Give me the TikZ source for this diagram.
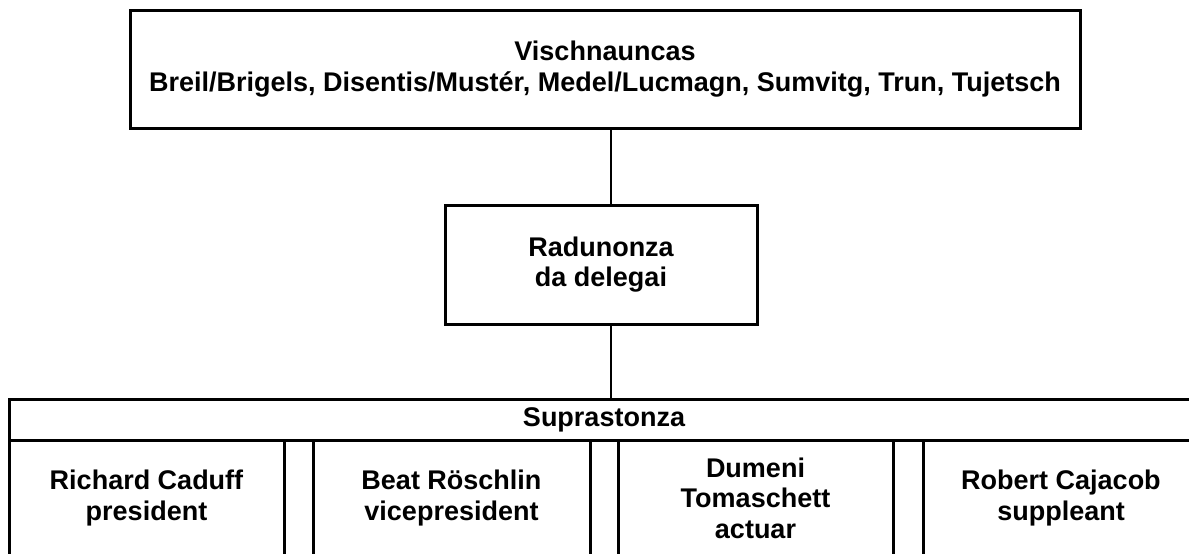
\documentclass[tikz,border=0pt]{standalone}
\usepackage{fontspec}
\setmainfont{Liberation Sans}
\begin{document}
\begin{tikzpicture}[x=1pt,y=-1pt,
  box/.style={draw=black, line width=3pt, fill=white, align=center, inner sep=0pt,
    font=\fontsize{27}{30.5}\selectfont\bfseries},
  conn/.style={draw=black, line width=2.8pt}]
\useasboundingbox (0,0) rectangle (1189,554);
\begin{scope}
\clip (0,0) rectangle (1189,554);
\coordinate (spine) at (611,0);
\node[box, minimum width=950pt, minimum height=118pt] (top) at (605,69)
  {Vischnauncas\\Breil/Brigels, Disentis/Mustér, Medel/Lucmagn, Sumvitg, Trun, Tujetsch};
\node[box, minimum width=312pt, minimum height=119pt] (mid) at (601,264.5)
  {Radunonza\\da delegai};
\node[box, minimum width=1190pt, minimum height=41pt] (sup) at (604,419.5) {Suprastonza};
\node[box, minimum width=275pt, minimum height=116pt] (c1) at (146.5,498) {Richard Caduff\\president};
\node[box, minimum width=277pt, minimum height=116pt] (c2) at (451.5,498) {Beat Röschlin\\vicepresident};
\node[box, minimum width=275pt, minimum height=116pt] (c3) at (755.5,498) {Dumeni\\Tomaschett\\actuar};
\node[box, minimum width=276pt, minimum height=116pt] (c4) at (1061,498) {Robert Cajacob\\suppleant};
\draw[conn] (top.south -| spine) -- (mid.north -| spine);
\draw[conn] (mid.south -| spine) -- (sup.north -| spine);
\end{scope}
\end{tikzpicture}
\end{document}
